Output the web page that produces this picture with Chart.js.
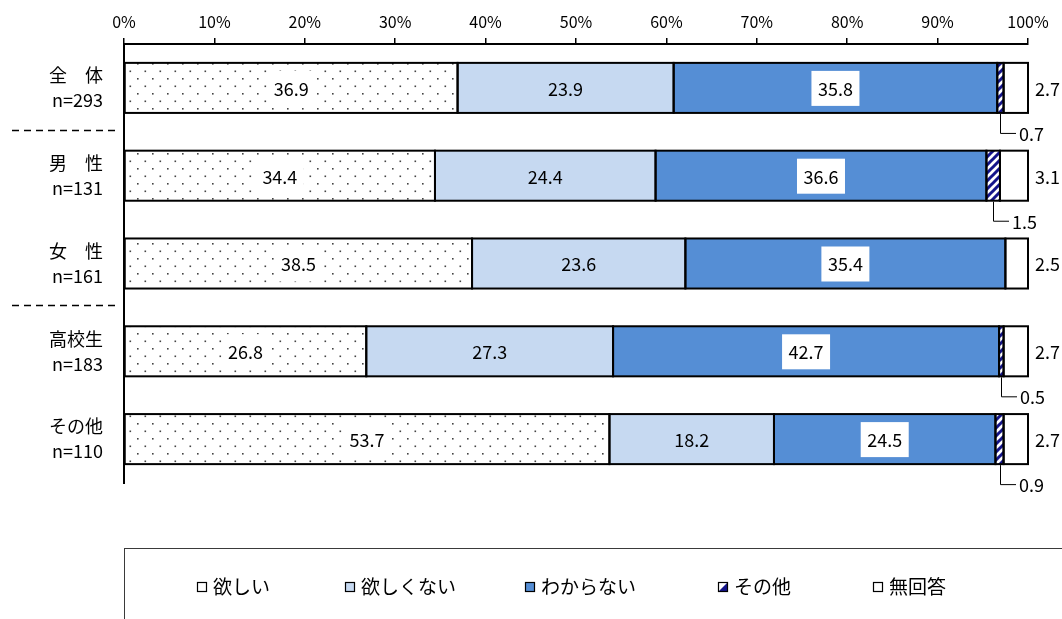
<!DOCTYPE html>
<html><head><meta charset="utf-8">
<script src="https://cdn.jsdelivr.net/npm/chart.js@4.4.1/dist/chart.umd.min.js"></script>
<style>html,body{margin:0;padding:0;background:#fff;}#wrap{width:1062px;height:619px;}</style>
</head><body><div id="wrap"><canvas id="c" width="1062" height="619"></canvas></div>
<script>
// ---- data ----
const categories = [["全　体","n=293"],["男　性","n=131"],["女　性","n=161"],["高校生","n=183"],["その他","n=110"]];
const seriesNames = ["欲しい","欲しくない","わからない","その他","無回答"];
const want      = [36.9, 34.4, 38.5, 26.8, 53.7];
const notWant   = [23.9, 24.4, 23.6, 27.3, 18.2];
const dontKnow  = [35.8, 36.6, 35.4, 42.7, 24.5];
const other     = [0.7, 1.5, 0, 0.5, 0.9];
const noAnswer  = [2.7, 3.1, 2.5, 2.7, 2.7];
const xTickLabels = ["0%","10%","20%","30%","40%","50%","60%","70%","80%","90%","100%"];

const FONT = '"Noto Sans CJK JP", "Liberation Sans", sans-serif';
const NAVY = '#14148a';

function dotPattern(){
  const c = document.createElement('canvas'); c.width = 15; c.height = 15;
  const g = c.getContext('2d');
  g.fillStyle = '#fff'; g.fillRect(0,0,15,15);
  g.fillStyle = '#444';
  g.fillRect(2,3,1.6,1.6); g.fillRect(9.5,10.5,1.6,1.6);
  return g.createPattern(c,'repeat');
}
function hatchPattern(){
  const s = 8;
  const c = document.createElement('canvas'); c.width = s; c.height = s;
  const g = c.getContext('2d');
  g.fillStyle = '#fff'; g.fillRect(0,0,s,s);
  g.strokeStyle = NAVY; g.lineWidth = 3;
  g.beginPath();
  g.moveTo(-2, s+2); g.lineTo(s+2, -2);
  g.moveTo(-2-s/2, s/2+2); g.lineTo(s/2+2, -s/2-2);
  g.moveTo(s/2-2, s*1.5+2); g.lineTo(s*1.5+2, s/2-2);
  g.stroke();
  return g.createPattern(c,'repeat');
}
const fills = [dotPattern(), '#c6d9f1', '#558ed5', hatchPattern(), '#ffffff'];
const seriesData = [want, notWant, dontKnow, other, noAnswer];

const outlinePlugin = {
  id: 'segOutline',
  afterDatasetsDraw(chart){
    const ctx = chart.ctx;
    ctx.save();
    ctx.strokeStyle = '#000'; ctx.lineWidth = 2;
    chart.data.datasets.forEach((ds, di) => {
      chart.getDatasetMeta(di).data.forEach((el, i) => {
        if (!ds.data[i]) return;
        const x0 = Math.min(el.base, el.x), x1 = Math.max(el.base, el.x);
        const y0 = el.y - el.height / 2;
        ctx.strokeRect(x0, y0, x1 - x0, el.height);
      });
    });
    ctx.restore();
  }
};

const labelPlugin = {
  id: 'segLabels',
  afterDatasetsDraw(chart){
    const ctx = chart.ctx;
    ctx.save();
    ctx.font = '18px ' + FONT;
    ctx.textBaseline = 'middle';
    chart.data.datasets.forEach((ds, di) => {
      const meta = chart.getDatasetMeta(di);
      meta.data.forEach((el, i) => {
        const v = ds.data[i];
        if (!v) return;
        const txt = v.toFixed(1);
        const cx = (el.x + el.base) / 2, cy = el.y;
        if (di <= 2) {
          if (di !== 1) {
            ctx.fillStyle = '#fff';
            ctx.fillRect(cx - 24, cy - 17, 48, 35);
          }
          ctx.fillStyle = '#000'; ctx.textAlign = 'center';
          ctx.fillText(txt, cx, cy + 1);
        } else if (di === 3) {
          const yb = el.y + el.height / 2 + 1;
          ctx.strokeStyle = '#000'; ctx.lineWidth = 1;
          ctx.beginPath();
          ctx.moveTo(Math.round(cx)+0.5, yb); ctx.lineTo(Math.round(cx)+0.5, yb + 19.5);
          ctx.lineTo(Math.round(cx) + 16, yb + 19.5);
          ctx.stroke();
          ctx.fillStyle = '#000'; ctx.textAlign = 'left';
          ctx.fillText(txt, Math.round(cx) + 19, yb + 20);
        } else {
          ctx.fillStyle = '#000'; ctx.textAlign = 'left';
          ctx.fillText(txt, el.x + 7, cy + 1);
        }
      });
    });
    ctx.restore();
  }
};

const decorPlugin = {
  id: 'decor',
  afterDraw(chart){
    const ctx = chart.ctx, ys = chart.scales.y;
    ctx.save();
    // dashed separators
    ctx.strokeStyle = '#000'; ctx.lineWidth = 1.5; ctx.setLineDash([7,5]);
    [0, 2].forEach(i => {
      const y = Math.round((ys.getPixelForValue(i) + ys.getPixelForValue(i + 1)) / 2) - 1.5;
      ctx.beginPath(); ctx.moveTo(12, y); ctx.lineTo(118, y); ctx.stroke();
    });
    ctx.setLineDash([]);
    // legend box
    ctx.strokeStyle = '#3a3a3a'; ctx.lineWidth = 1;
    ctx.strokeRect(124.5, 548.5, 1000, 200);
    const lx = [197, 345, 525, 718, 873];
    const ly = 587;
    ctx.font = '19px ' + FONT; ctx.textBaseline = 'middle'; ctx.textAlign = 'left';
    seriesNames.forEach((name, i) => {
      const x = lx[i];
      if (i === 3) {
        ctx.fillStyle = '#fff'; ctx.fillRect(x, ly - 5, 10, 10);
        ctx.fillStyle = NAVY;
        ctx.beginPath(); ctx.moveTo(x + 10, ly - 5); ctx.lineTo(x + 10, ly + 5); ctx.lineTo(x, ly + 5); ctx.closePath(); ctx.fill();
      } else {
        ctx.fillStyle = i === 0 ? '#fff' : fills[i];
        ctx.fillRect(x, ly - 5, 10, 10);
      }
      ctx.strokeStyle = '#000'; ctx.lineWidth = 1.2;
      ctx.strokeRect(x + 0.5, ly - 4.5, 9, 9);
      ctx.fillStyle = '#000';
      ctx.fillText(name, x + 16, ly);
    });
    ctx.restore();
  }
};

new Chart(document.getElementById('c'), {
  type: 'bar',
  data: {
    labels: categories,
    datasets: seriesNames.map((n, i) => ({
      label: n,
      data: seriesData[i],
      backgroundColor: fills[i],
      borderWidth: 0,
      categoryPercentage: 1,
      barPercentage: 0.57
    }))
  },
  options: {
    indexAxis: 'y',
    responsive: false,
    animation: false,
    layout: { padding: { top: 0, left: 0, right: 34, bottom: 136 } },
    plugins: { legend: { display: false }, tooltip: { enabled: false } },
    scales: {
      x: {
        position: 'top', stacked: true, min: 0, max: 100,
        ticks: { stepSize: 10, color: '#000', padding: 6, font: { family: FONT, size: 16 },
          callback: (v, idx) => xTickLabels[idx] },
        grid: { drawOnChartArea: false, drawTicks: true, tickLength: 6, color: '#000', lineWidth: 1.5 },
        border: { display: true, color: '#000', width: 2 },
        afterFit: s => { s.height = 44; }
      },
      y: {
        stacked: true,
        ticks: { color: '#000', padding: 13, font: { family: FONT, size: 18, lineHeight: 1.39 } },
        grid: { display: false },
        border: { display: true, color: '#000', width: 2 },
        afterFit: s => { s.width = 124; }
      }
    }
  },
  plugins: [outlinePlugin, labelPlugin, decorPlugin]
});
</script></body></html>
